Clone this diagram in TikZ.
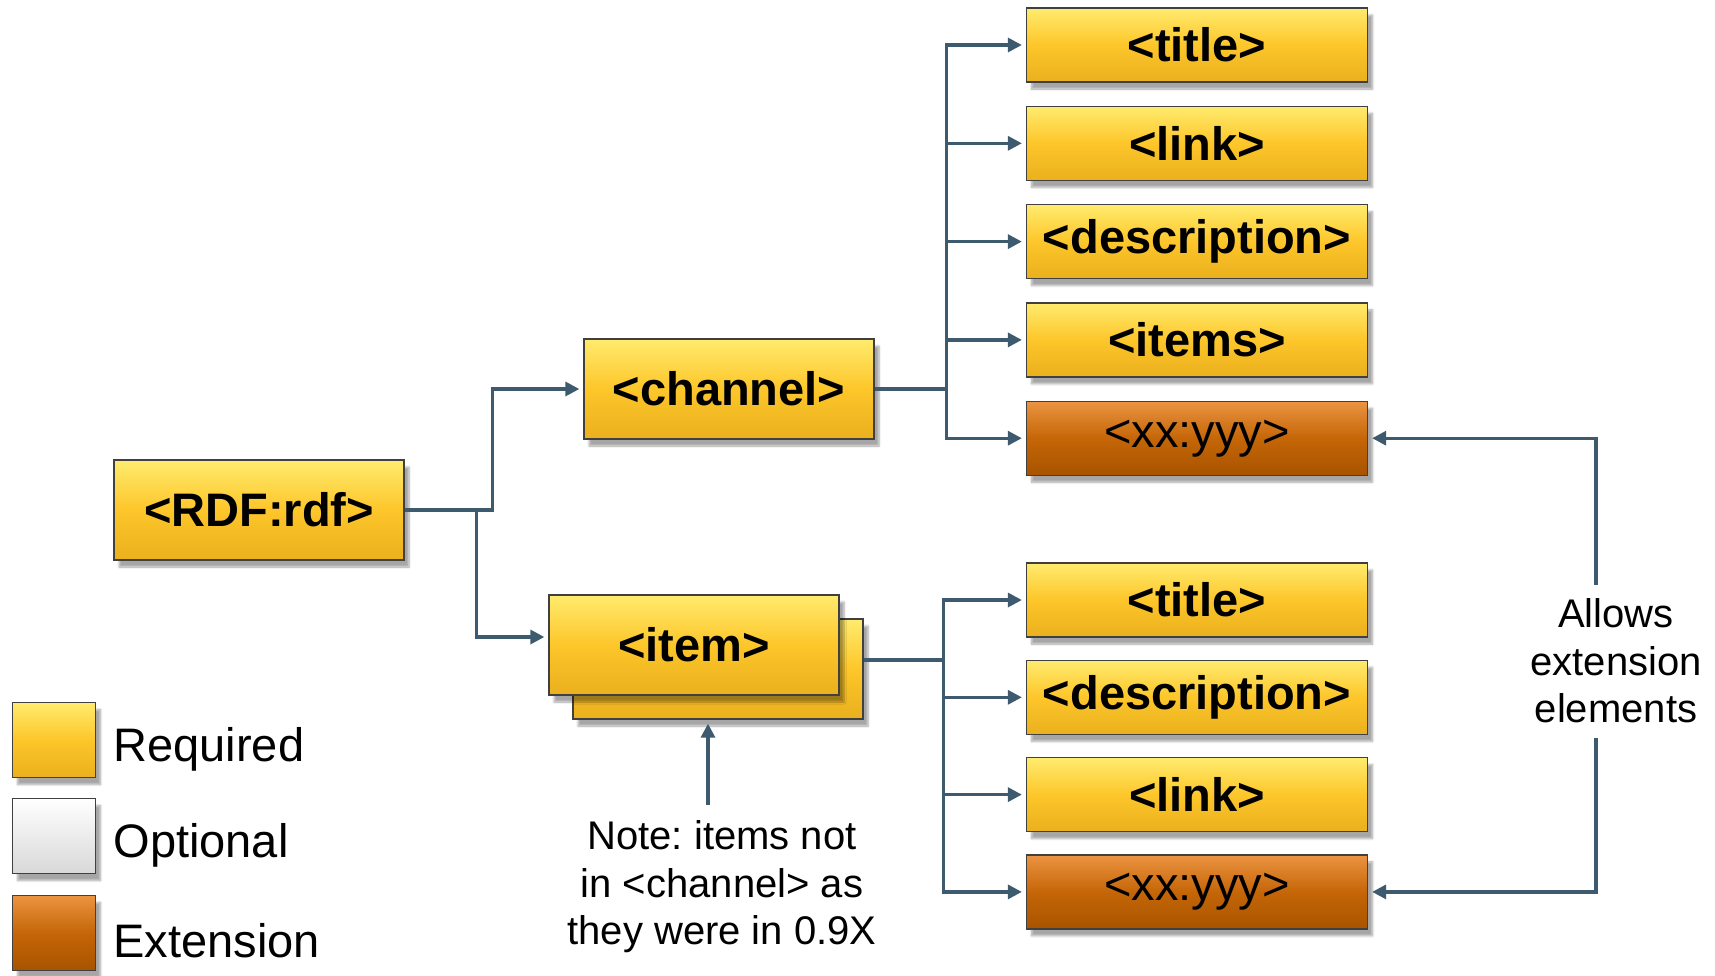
\documentclass[tikz,border=0pt]{standalone}
\usepackage{fontspec}
\setmainfont{Liberation Sans}
\usepackage{tikz}
\usetikzlibrary{positioning,arrows.meta,shadows.blur}
\frenchspacing

\definecolor{reqtop}{HTML}{FFEB6E}
\definecolor{reqmid}{HTML}{FDC62A}
\definecolor{reqbot}{HTML}{EAB01E}
\definecolor{exttop}{HTML}{EC9442}
\definecolor{extmid}{HTML}{C56607}
\definecolor{extbot}{HTML}{A85300}
\definecolor{opttop}{HTML}{FFFFFF}
\definecolor{optbot}{HTML}{D8D8D8}
\definecolor{wire}{HTML}{3D5A6E}

\tikzset{
  box/.style={draw=black!75, line width=1.3pt, inner sep=0pt,
    blur shadow={shadow xshift=5pt, shadow yshift=-7pt, shadow blur steps=6, shadow opacity=35}},
  reqbox/.style={box, top color=reqtop, bottom color=reqbot, middle color=reqmid,
    font=\fontsize{47}{56}\selectfont\bfseries},
  extbox/.style={box, top color=exttop, bottom color=extbot, middle color=extmid,
    font=\fontsize{47}{56}\selectfont},
  optbox/.style={box, top color=opttop, bottom color=optbot},
  big/.style={minimum width=290pt, minimum height=100pt},
  leaf/.style={minimum width=341pt, minimum height=74pt},
  key/.style={minimum width=83pt, minimum height=75pt},
  keytext/.style={anchor=west, font=\fontsize{47}{56}\selectfont},
  note/.style={align=center, font=\fontsize{40}{47.6}\selectfont, inner sep=0pt},
  link/.style={draw=wire, line width=3.2pt, -{Triangle[length=14pt,width=14pt]}, shorten >=4pt},
  wireline/.style={draw=wire, line width=3.2pt}
}

\begin{document}
\begin{tikzpicture}[x=1pt, y=-1pt]
  \useasboundingbox (0,0) rectangle (1715,975);

  \node [reqbox,big] (rdf) at (259,510) {<RDF:rdf>};
  \node [reqbox,big] (channel) at (729,389) {<channel>};
  \node [reqbox,big] (itemback) at (718,669) {};
  \node [reqbox,big] (item) at (694,645) {<item>};

  \node [reqbox,leaf] (ctitle) at (1197,45) {<title>};
  \node [reqbox,leaf] (clink) [below=23pt of ctitle] {<link>};
  \node [reqbox,leaf] (cdesc) [below=23pt of clink] {<description>};
  \node [reqbox,leaf] (citems) [below=23pt of cdesc] {<items>};
  \node [extbox,leaf] (cext) [below=23pt of citems] {<xx:yyy>};

  \node [reqbox,leaf] (ititle) at (1197,600) {<title>};
  \node [reqbox,leaf] (idesc) [below=22pt of ititle] {<description>};
  \node [reqbox,leaf] (ilink) [below=22pt of idesc] {<link>};
  \node [extbox,leaf] (iext) [below=22pt of ilink] {<xx:yyy>};

  \node [note] (allows) at (1616,661) {Allows\\extension\\elements};
  \node [note] (notetext) at (722,887) {Note: items not\\in <channel> as\\they were in 0.9X};

  \node [reqbox,key] (keyreq) at (54,740) {};
  \node [optbox,key] (keyopt) at (54,836) {};
  \node [extbox,key] (keyext) at (54,933) {};
  \node [keytext] (lreq) at (110,749) {Required};
  \node [keytext] (lopt) at (110,845) {Optional};
  \node [keytext] (lext) at (110,941) {Extension};

  \draw [link] (rdf.east) -- ++(88,0) |- (channel.west);
  \draw [link] (rdf.east) -- ++(72,0) |- ([yshift=8pt]item.west);

  \draw [wireline] (channel.east) -- ++(72,0) coordinate (cbus);
  \foreach \kid in {ctitle,clink,cdesc,citems,cext}
    \draw [link] (cbus) |- (\kid.west);

  \draw [wireline] ([yshift=9pt]itemback.east) -- ++(80,0) coordinate (ibus);
  \foreach \kid in {ititle,idesc,ilink,iext}
    \draw [link] (ibus) |- (\kid.west);

  \draw [link] ([xshift=-20pt,yshift=14pt]allows.north) |- (cext.east);
  \draw [link] ([xshift=-20pt,yshift=-14pt]allows.south) |- (iext.east);
  \draw [link] ([xshift=-14pt,yshift=16pt]notetext.north) -- ([xshift=-10pt]itemback.south);
\end{tikzpicture}
\end{document}
